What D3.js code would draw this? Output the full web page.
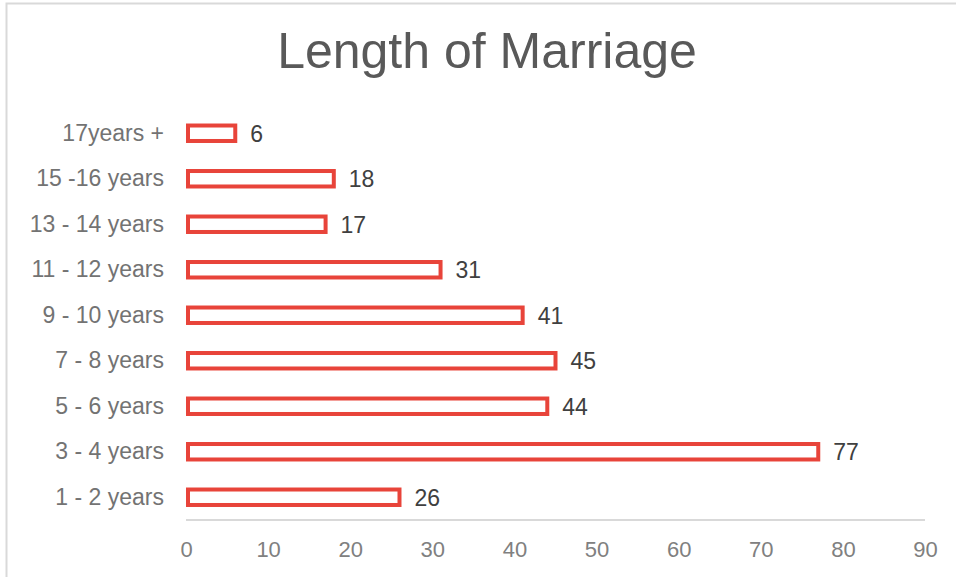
<!DOCTYPE html>
<html>
<head>
<meta charset="utf-8">
<script src="https://cdn.jsdelivr.net/npm/d3@7"></script>
<style>
  body { margin: 0; background: #fff; }
  svg { display: block; font-family: "Liberation Sans", Arial, sans-serif; }
</style>
</head>
<body>
<svg id="chart" width="956" height="577"></svg>
<script>
// categories top to bottom, as drawn
var categories = ["17years +", "15 -16 years", "13 - 14 years", "11 - 12 years",
                  "9 - 10 years", "7 - 8 years", "5 - 6 years", "3 - 4 years", "1 - 2 years"];
var counts = [6, 18, 17, 31, 41, 45, 44, 77, 26];
var xTicks = [0, 10, 20, 30, 40, 50, 60, 70, 80, 90];

var svg = d3.select("#chart");

// chart frame (only top/left edges show inside the window)
svg.append("rect")
  .attr("x", 6.5).attr("y", 3.5)
  .attr("width", 1000).attr("height", 1000)
  .attr("fill", "none")
  .attr("stroke", "#d9d9d9")
  .attr("stroke-width", 2);

svg.append("text")
  .attr("x", 487).attr("y", 68)
  .attr("text-anchor", "middle")
  .attr("font-size", 50)
  .attr("fill", "#595959")
  .text("Length of Marriage");

var x = d3.scaleLinear().domain([0, 90]).range([186, 925]);
var y = d3.scaleBand().domain(categories).range([110.5, 520]).paddingInner(0.66).paddingOuter(0.33);

// axis baseline
svg.append("line")
  .attr("x1", x(0)).attr("x2", x(90))
  .attr("y1", 520).attr("y2", 520)
  .attr("stroke", "#d9d9d9")
  .attr("stroke-width", 2);

var xAxis = svg.append("g")
  .attr("transform", "translate(0,520)")
  .call(d3.axisBottom(x).tickValues(xTicks).tickSize(0).tickPadding(21));
xAxis.select(".domain").remove();
xAxis.selectAll("text")
  .attr("font-size", 22)
  .attr("font-family", "'Liberation Sans', Arial, sans-serif")
  .attr("fill", "#808080");

var yAxis = svg.append("g")
  .attr("transform", "translate(164,0)")
  .call(d3.axisLeft(y).tickSize(0).tickPadding(0));
yAxis.select(".domain").remove();
yAxis.selectAll("text")
  .attr("font-size", 23)
  .attr("font-family", "'Liberation Sans', Arial, sans-serif")
  .attr("fill", "#737373");

var bars = svg.append("g");
bars.selectAll("rect")
  .data(counts)
  .join("rect")
  .attr("x", x(0) + 2)
  .attr("y", function (d, i) { return y(categories[i]); })
  .attr("width", function (d) { return x(d) - x(0) - 2; })
  .attr("height", y.bandwidth())
  .attr("fill", "#fff")
  .attr("stroke", "#e8443a")
  .attr("stroke-width", 4);

bars.selectAll("text")
  .data(counts)
  .join("text")
  .attr("x", function (d) { return x(d) + 15; })
  .attr("y", function (d, i) { return y(categories[i]) + y.bandwidth() / 2; })
  .attr("dy", "0.36em")
  .attr("font-size", 23)
  .attr("fill", "#404040")
  .text(function (d) { return d; });
</script>
</body>
</html>
